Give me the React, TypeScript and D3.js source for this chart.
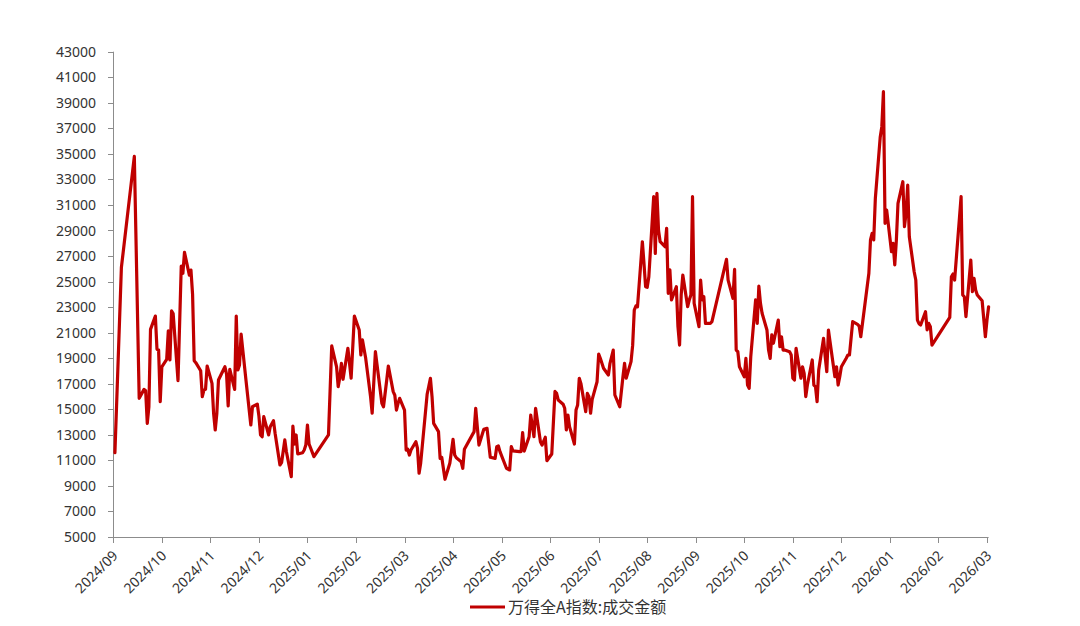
import React from "react";
import * as d3 from "d3";

// ---- data (万得全A指数:成交金额, 亿元) ----
const dates: string[] = [
  "2024-09-26","2024-09-27","2024-09-30","2024-10-08","2024-10-11","2024-10-14","2024-10-15","2024-10-16","2024-10-17","2024-10-18",
  "2024-10-21","2024-10-22","2024-10-23","2024-10-24","2024-10-25","2024-10-28","2024-10-29","2024-10-30","2024-10-31","2024-11-01",
  "2024-11-04","2024-11-06","2024-11-07","2024-11-08","2024-11-11","2024-11-12","2024-11-13","2024-11-14","2024-11-15","2024-11-18",
  "2024-11-19","2024-11-20","2024-11-21","2024-11-22","2024-11-25","2024-11-26","2024-11-27","2024-11-28","2024-11-29","2024-12-02",
  "2024-12-03","2024-12-04","2024-12-05","2024-12-06","2024-12-09","2024-12-10","2024-12-11","2024-12-12","2024-12-13","2024-12-16",
  "2024-12-19","2024-12-20","2024-12-23","2024-12-24","2024-12-25","2024-12-26","2024-12-27","2024-12-30","2024-12-31","2025-01-02",
  "2025-01-03","2025-01-06","2025-01-07","2025-01-09","2025-01-10","2025-01-13","2025-01-14","2025-01-15","2025-01-16","2025-01-17",
  "2025-01-20","2025-01-21","2025-01-22","2025-01-23","2025-01-24","2025-01-27","2025-02-05","2025-02-07","2025-02-10","2025-02-11",
  "2025-02-12","2025-02-13","2025-02-14","2025-02-17","2025-02-19","2025-02-21","2025-02-24","2025-02-25","2025-02-26","2025-02-28",
  "2025-03-03","2025-03-04","2025-03-06","2025-03-07","2025-03-10","2025-03-11","2025-03-13","2025-03-14","2025-03-17","2025-03-18",
  "2025-03-19","2025-03-20","2025-03-21","2025-03-24","2025-03-25","2025-03-26","2025-03-27","2025-03-28","2025-03-31","2025-04-01",
  "2025-04-02","2025-04-03","2025-04-07","2025-04-08","2025-04-09","2025-04-10","2025-04-11","2025-04-14","2025-04-15","2025-04-16",
  "2025-04-18","2025-04-21","2025-04-23","2025-04-24","2025-04-25","2025-04-28","2025-04-29","2025-04-30","2025-05-06","2025-05-07",
  "2025-05-08","2025-05-09","2025-05-12","2025-05-14","2025-05-16","2025-05-19","2025-05-20","2025-05-21","2025-05-22","2025-05-26",
  "2025-05-28","2025-05-29","2025-05-30","2025-06-03","2025-06-04","2025-06-05","2025-06-06","2025-06-09","2025-06-10","2025-06-12",
  "2025-06-13","2025-06-16","2025-06-17","2025-06-19","2025-06-20","2025-06-23","2025-06-25","2025-06-26","2025-06-27","2025-06-30",
  "2025-07-01","2025-07-02","2025-07-03","2025-07-04","2025-07-07","2025-07-08","2025-07-09","2025-07-10","2025-07-11","2025-07-14",
  "2025-07-15","2025-07-16","2025-07-17","2025-07-18","2025-07-21","2025-07-22","2025-07-23","2025-07-25","2025-07-28","2025-07-29",
  "2025-07-31","2025-08-01","2025-08-04","2025-08-06","2025-08-07","2025-08-08","2025-08-11","2025-08-12","2025-08-13","2025-08-14",
  "2025-08-15","2025-08-18","2025-08-19","2025-08-20","2025-08-21","2025-08-22","2025-08-25","2025-08-26","2025-08-27","2025-08-28",
  "2025-08-29","2025-09-01","2025-09-02","2025-09-03","2025-09-04","2025-09-05","2025-09-08","2025-09-09","2025-09-10","2025-09-11",
  "2025-09-12","2025-09-15","2025-09-16","2025-09-17","2025-09-18","2025-09-19","2025-09-22","2025-09-23","2025-09-24","2025-09-25",
  "2025-09-26","2025-09-29","2025-09-30","2025-10-09","2025-10-10","2025-10-13","2025-10-14","2025-10-15","2025-10-16","2025-10-17",
  "2025-10-20","2025-10-21","2025-10-22","2025-10-23","2025-10-24","2025-10-27","2025-10-28","2025-10-29","2025-10-30","2025-10-31",
  "2025-11-03","2025-11-04","2025-11-05","2025-11-06","2025-11-07","2025-11-10","2025-11-11","2025-11-12","2025-11-13","2025-11-14",
  "2025-11-17","2025-11-18","2025-11-19","2025-11-20","2025-11-21","2025-11-24","2025-11-25","2025-11-26","2025-11-27","2025-11-28",
  "2025-12-01","2025-12-02","2025-12-03","2025-12-04","2025-12-05","2025-12-08","2025-12-09","2025-12-10","2025-12-11","2025-12-12",
  "2025-12-15","2025-12-16","2025-12-17","2025-12-18","2025-12-19","2025-12-22","2025-12-23","2025-12-24","2025-12-26","2025-12-29",
  "2025-12-30","2025-12-31","2026-01-05","2026-01-06","2026-01-07","2026-01-08","2026-01-09","2026-01-12","2026-01-13","2026-01-14",
  "2026-01-15","2026-01-16","2026-01-19","2026-01-20","2026-01-21","2026-01-22","2026-01-23","2026-01-26","2026-01-27","2026-01-28",
  "2026-01-29","2026-01-30","2026-02-02","2026-02-03","2026-02-04","2026-02-05","2026-02-06","2026-02-09","2026-02-10","2026-02-11",
  "2026-02-12","2026-02-13","2026-02-24","2026-02-25","2026-02-26","2026-02-27","2026-03-02","2026-03-03","2026-03-04","2026-03-05",
  "2026-03-06","2026-03-09","2026-03-10","2026-03-11","2026-03-12","2026-03-13","2026-03-16","2026-03-18","2026-03-19","2026-03-20"
];

const values: number[] = [
  11600,15200,26100,34800,15860,16560,16450,13900,15200,21260,
  22300,19700,19640,15600,18330,18910,21150,18860,22700,22500,
  17240,26220,25650,27290,25510,25900,24000,18800,18650,18020,
  15990,16510,16560,18390,17030,14690,13380,14690,17290,18080,
  18330,17760,15260,18130,16560,22300,18080,18470,20890,17290,
  13770,15200,15410,14470,12990,12850,14420,12990,13640,14110,
  13120,10640,10820,12600,11680,9720,13690,12280,12990,11500,
  11600,11810,12200,13770,12280,11290,12990,19960,18330,16770,
  17500,18600,17350,19770,17430,22300,21210,19250,20430,18990,
  16000,14690,19510,18500,15470,15200,17290,18390,16380,16100,
  14940,15470,15860,14940,11810,11870,11420,11810,12460,11950,
  9990,10800,16200,16800,17430,16000,13900,13250,11160,11240,
  9520,10770,12650,11420,11200,10900,10380,11870,13250,15080,
  13600,12200,13430,13510,11240,11160,12070,12130,11680,10380,
  10250,12070,11750,11680,11680,13170,11730,12850,14550,12850,
  15080,12460,12200,12810,10970,11500,16400,16250,15730,15400,
  15080,13380,14550,13640,12280,14940,15340,17430,17030,14810,
  16250,15990,14690,15780,17160,19330,18990,18210,17690,18600,
  19640,16120,15200,17550,18600,17430,18730,20000,22770,23090,
  23030,28120,26430,24600,24550,25380,31650,27210,31910,29000,
  28120,27730,29170,24080,25910,23560,24600,21470,20030,23950,
  25510,23030,23560,23950,31650,23300,21470,25120,23560,23810,
  21730,21730,21860,26740,25120,23690,25960,19640,19510,18330,
  17550,18990,16900,16640,19120,23560,21730,24650,23300,22520,
  21210,19640,18990,20820,20170,21990,19900,20680,19640,19640,
  19510,19250,17430,17290,19770,17430,18330,17820,15990,16900,
  18860,16900,16770,15590,18080,20560,19120,17940,21210,20290,
  17550,18330,16900,17550,18330,19000,19250,19250,21860,21650,
  21520,20680,25650,28260,28780,28260,31520,36300,37130,39870,
  29560,30600,27340,28000,26300,28260,31130,32820,29300,30350,
  32560,28510,25770,25120,21990,21700,21600,22640,21210,21730,
  21470,20030,22200,25380,25590,25120,30000,31650,23950,23810,
  22250,26690,24210,25260,24340,23950,23500,20680,21990,23030
];

const yTicks: number[] = [5000,7000,9000,11000,13000,15000,17000,19000,21000,23000,25000,27000,29000,31000,33000,35000,37000,39000,41000,43000];
const xTickLabels: string[] = [
  "2024/09","2024/10","2024/11","2024/12","2025/01","2025/02","2025/03","2025/04","2025/05","2025/06",
  "2025/07","2025/08","2025/09","2025/10","2025/11","2025/12","2026/01","2026/02","2026/03"
];
const axisStart = "2024-09-25";
const axisEnd = "2026-03-20";
const tickStepDays = 30;
const seriesName = "万得全A指数:成交金额";

const W = 1080;
const H = 626;
const parse = d3.timeParse("%Y-%m-%d");

export default function App() {
  const x = d3.scaleTime()
    .domain([parse(axisStart) as Date, parse(axisEnd) as Date])
    .range([113.3, 988.6]);
  const y = d3.scaleLinear().domain([5000, 43000]).range([537, 51.7]);

  const pts: [Date, number][] = dates.map((d, i) => [parse(d) as Date, values[i]]);
  const line = d3.line<[Date, number]>()
    .x((p) => x(p[0]))
    .y((p) => y(p[1]));

  const t0 = parse(axisStart) as Date;
  const xTicks = xTickLabels.map((lab, i) => ({ lab, xp: x(d3.timeDay.offset(t0, tickStepDays * i)) }));

  const axisColor = "#8c8c8c";
  const textColor = "#333333";
  const numFont = "'Noto Sans', 'Liberation Sans', sans-serif";
  const cjkFont = "'Noto Sans CJK SC', 'Noto Sans', sans-serif";

  return (
    <svg width={W} height={H} viewBox={`0 0 ${W} ${H}`}
      style={{ position: "absolute", left: 0, top: 0, background: "#fff" }}>
      <rect x={0} y={0} width={W} height={H} fill="#ffffff" />
      {/* y axis */}
      <line x1={113.5} x2={113.5} y1={y(43000)} y2={y(5000)} stroke={axisColor} strokeWidth={1} />
      {yTicks.map((t) => (
        <g key={t}>
          <line x1={108} x2={113.5} y1={Math.round(y(t)) + 0.5} y2={Math.round(y(t)) + 0.5} stroke={axisColor} strokeWidth={1} />
          <text x={96} y={y(t)} dy="0.36em" textAnchor="end" fontFamily={numFont} fontSize={14} fill={textColor}>{t}</text>
        </g>
      ))}
      {/* x axis */}
      <line x1={113} x2={988.6} y1={537.5} y2={537.5} stroke={axisColor} strokeWidth={1} />
      {xTicks.map((t) => (
        <g key={t.lab}>
          <line x1={Math.round(t.xp) + 0.5} x2={Math.round(t.xp) + 0.5} y1={537.5} y2={543} stroke={axisColor} strokeWidth={1} />
          <text transform={`translate(${t.xp + 2},${553}) rotate(-45)`} textAnchor="end" dy="0.35em"
            fontFamily={numFont} fontSize={14} fill={textColor}>{t.lab}</text>
        </g>
      ))}
      {/* series */}
      <path d={line(pts) || ""} fill="none" stroke="#C00000" strokeWidth={3.2} strokeLinejoin="round" strokeLinecap="round" />
      {/* legend */}
      <line x1={470} x2={505} y1={607} y2={607} stroke="#C00000" strokeWidth={3} />
      <text x={508} y={607} dy="0.36em" fontFamily={cjkFont} fontSize={16} fill={textColor}>{seriesName}</text>
    </svg>
  );
}
